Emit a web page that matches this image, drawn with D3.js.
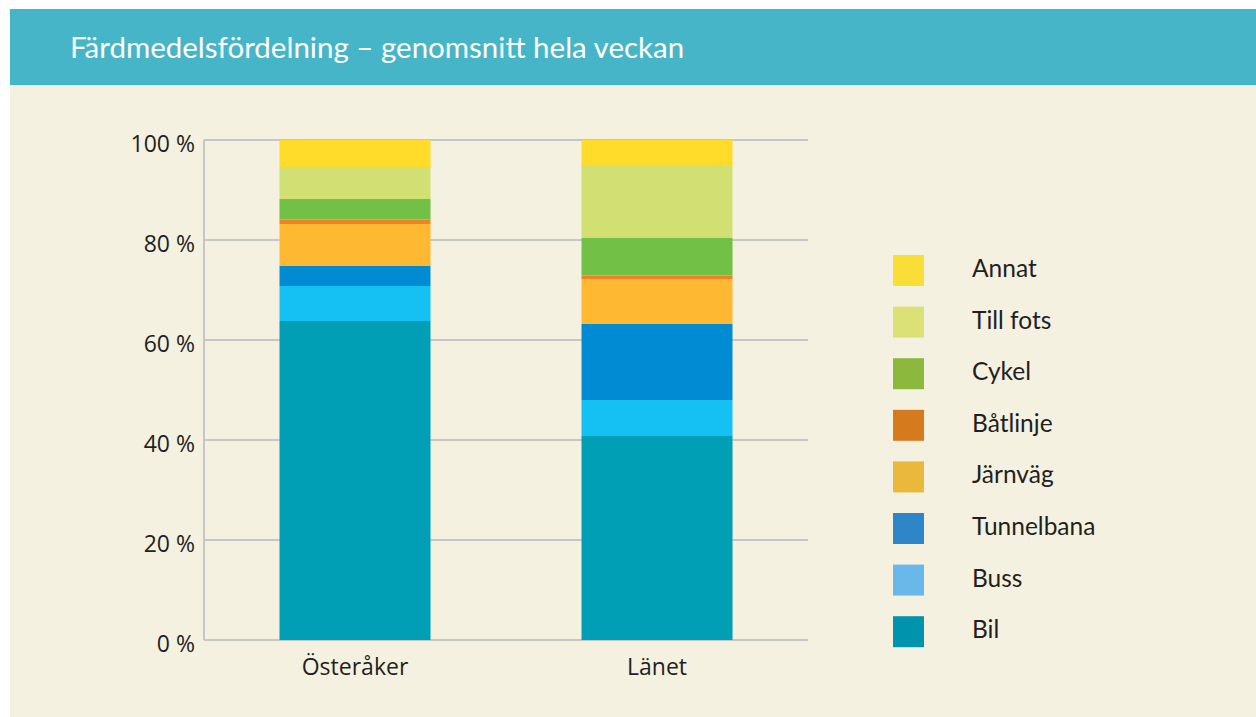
<!DOCTYPE html>
<html>
<head>
<meta charset="utf-8">
<script src="https://cdn.jsdelivr.net/npm/d3@7"></script>
<style>
  body { margin: 0; background: #fff; }
  svg { display: block; }
  .tick text { font-family: "Open Sans", sans-serif; fill: #231f20; }
</style>
</head>
<body>
<svg width="1256" height="717"></svg>
<script>
// values, in percent, bottom to top
var categories = ["Österåker", "Länet"];
var modes = ["Bil", "Buss", "Tunnelbana", "Järnväg", "Båtlinje", "Cykel", "Till fots", "Annat"];
var osteraker = [63.8, 7.0, 4.0, 8.4, 0.9, 4.1, 6.4, 5.4];
var lanet = [40.8, 7.2, 15.2, 9.0, 0.7, 7.5, 14.6, 5.0];
var yTicks = [0, 20, 40, 60, 80, 100];

var barColors = ["#009fb6", "#15c1f3", "#008bd2", "#ffb831", "#f08326", "#73c046", "#d1df73", "#ffdb2a"];
var legendColors = ["#0093ad", "#6ab8ea", "#2e86c8", "#eab83a", "#d67a1e", "#8db83e", "#dbe077", "#f9de37"];

var svg = d3.select("svg");

// background panels
svg.append("rect").attr("x", 10).attr("y", 9).attr("width", 1246).attr("height", 76).attr("fill", "#47b5c8");
svg.append("rect").attr("x", 10).attr("y", 85).attr("width", 1246).attr("height", 632).attr("fill", "#f4f1e1");

svg.append("text")
    .attr("x", 70).attr("y", 58)
    .attr("fill", "#fff")
    .style("font-family", "Lato, sans-serif")
    .style("font-size", "29.5px")
    .text("Färdmedelsfördelning – genomsnitt hela veckan");

var table = categories.map(function(c, i) {
    var row = { name: c };
    var vals = i === 0 ? osteraker : lanet;
    modes.forEach(function(m, j) { row[m] = vals[j]; });
    return row;
});

var x = d3.scaleBand()
    .domain(categories)
    .range([204, 808])
    .paddingInner(0.5)
    .paddingOuter(0.25);

var y = d3.scaleLinear()
    .domain([0, 100])
    .range([640, 140]);

// grid
svg.append("g")
  .selectAll("line")
  .data(yTicks)
  .enter().append("line")
    .attr("x1", 204).attr("x2", 808)
    .attr("y1", function(d) { return y(d); })
    .attr("y2", function(d) { return y(d); })
    .attr("stroke", "#c6c6c6")
    .attr("stroke-width", 2);

svg.append("line")
    .attr("x1", 204).attr("x2", 204)
    .attr("y1", y(100)).attr("y2", y(0))
    .attr("stroke", "#c6c6c6")
    .attr("stroke-width", 2);

var stack = d3.stack().keys(modes);
var series = stack(table);

svg.append("g")
  .selectAll("g")
  .data(series)
  .enter().append("g")
    .attr("fill", function(d, i) { return barColors[i]; })
  .selectAll("rect")
  .data(function(d) { return d; })
  .enter().append("rect")
    .attr("x", function(d) { return x(d.data.name); })
    .attr("width", x.bandwidth())
    .attr("y", function(d) { return y(d[1]); })
    .attr("height", function(d) { return y(d[0]) - y(d[1]); });

var yAxis = svg.append("g")
    .attr("transform", "translate(204,0)")
    .call(d3.axisLeft(y).tickValues(yTicks).tickSize(0).tickPadding(9)
        .tickFormat(function(d) { return d + " %"; }));
yAxis.select(".domain").remove();
yAxis.selectAll("text").style("font-size", "23px").attr("dy", "0.48em");

var xAxis = svg.append("g")
    .attr("transform", "translate(0,640)")
    .call(d3.axisBottom(x).tickSize(0).tickPadding(19));
xAxis.select(".domain").remove();
xAxis.selectAll("text").style("font-size", "23px");

// legend, top to bottom
var legendRows = modes.map(function(m, i) { return { name: m, color: legendColors[i] }; }).reverse();

var legend = svg.append("g")
  .selectAll("g")
  .data(legendRows)
  .enter().append("g")
    .attr("transform", function(d, i) { return "translate(893," + (255 + i * 51.6) + ")"; });

legend.append("rect")
    .attr("width", 31).attr("height", 31)
    .attr("fill", function(d) { return d.color; });

legend.append("text")
    .attr("x", 79).attr("y", 22)
    .attr("fill", "#231f20")
    .style("font-family", "Lato, sans-serif")
    .style("font-size", "24.5px")
    .text(function(d) { return d.name; });
</script>
</body>
</html>
